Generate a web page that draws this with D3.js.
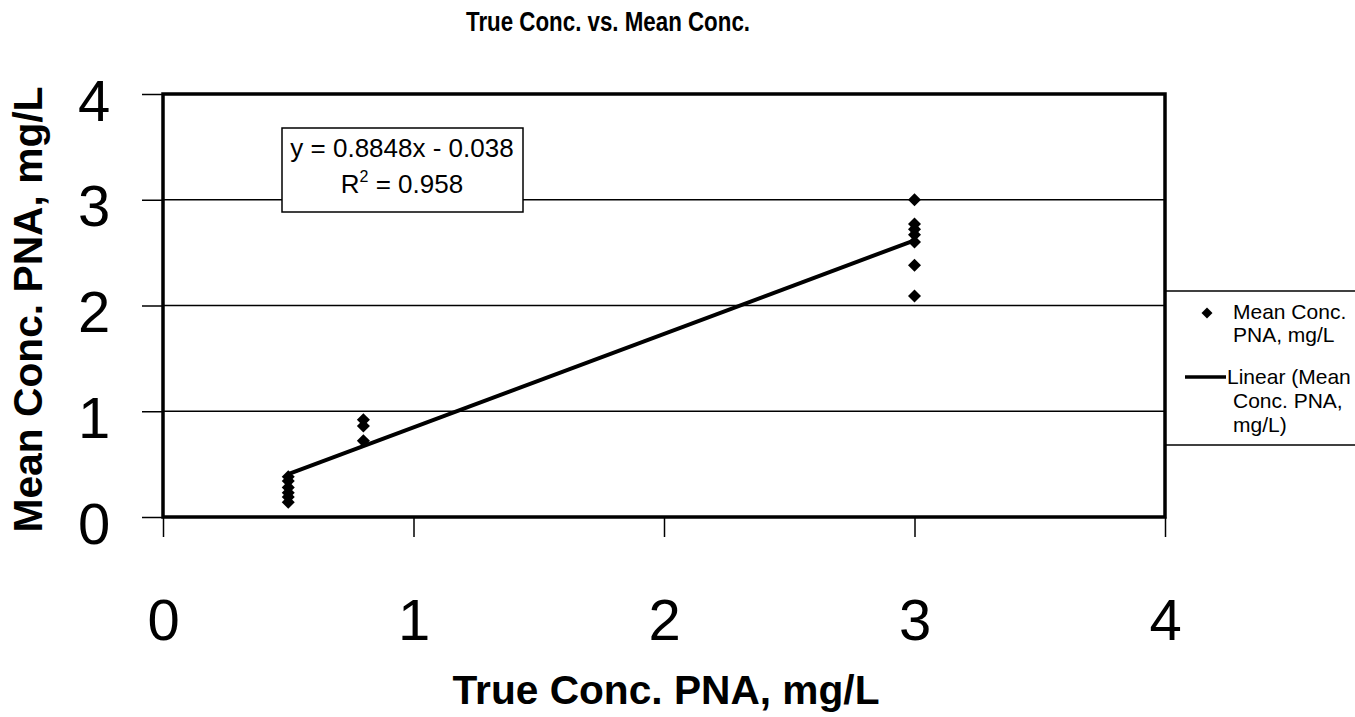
<!DOCTYPE html>
<html lang="en">
<head>
    <meta charset="UTF-8">
    <title>True Conc. vs. Mean Conc.</title>
    <script src="https://d3js.org/d3.v7.min.js"></script>
    <style>
        body {
            margin: 0;
            background: #fff;
            font-family: "Liberation Sans", Arial, sans-serif;
        }
        svg {
            display: block;
        }
    </style>
</head>
<body>
    <svg width="1355" height="717"></svg>

    <script>
        // data
        const trueConc = [0.5, 0.5, 0.5, 0.5, 0.5, 0.5, 0.8, 0.8, 0.8, 3, 3, 3, 3, 3, 3, 3];
        const meanConc = [0.38, 0.34, 0.28, 0.23, 0.19, 0.14, 0.92, 0.86, 0.72, 3.0, 2.77, 2.72, 2.67, 2.60, 2.38, 2.09];
        const xTicks = [0, 1, 2, 3, 4];
        const yTicks = [0, 1, 2, 3, 4];
        const gridValues = [1, 2, 3];
        const slope = 0.8848;
        const intercept = -0.038;
        const equationLines = ["y = 0.8848x - 0.038", "R2 = 0.958"];
        const legendPoint = ["Mean Conc.", "PNA, mg/L"];
        const legendLine = ["Linear (Mean", "Conc. PNA,", "mg/L)"];

        const svg = d3.select("svg");
        const plotLeft = 163, plotRight = 1165, plotTop = 94, plotBottom = 517;

        const x = d3.scaleLinear().domain([0, 4]).range([plotLeft, plotRight]);
        const y = d3.scaleLinear().domain([0, 4]).range([plotBottom, plotTop]);

        // title
        svg.append("text")
            .attr("x", 608).attr("y", 31)
            .attr("text-anchor", "middle")
            .attr("font-size", 27).attr("font-weight", "bold")
            .attr("textLength", 284).attr("lengthAdjust", "spacingAndGlyphs")
            .text("True Conc. vs. Mean Conc.");

        // gridlines
        svg.append("g")
            .selectAll("line")
            .data(gridValues)
            .join("line")
            .attr("x1", plotLeft).attr("x2", plotRight)
            .attr("y1", d => y(d)).attr("y2", d => y(d))
            .attr("stroke", "#000").attr("stroke-width", 1.5);

        // axes
        const yAxis = svg.append("g")
            .attr("transform", `translate(${plotLeft},0)`)
            .call(d3.axisLeft(y).tickValues(yTicks).tickSize(21).tickFormat(d3.format("d")));
        yAxis.select(".domain").remove();
        yAxis.selectAll(".tick line").attr("stroke", "#000").attr("stroke-width", 1.5);
        yAxis.selectAll(".tick text")
            .attr("x", -69).attr("dy", "0.45em")
            .attr("text-anchor", "middle")
            .attr("font-size", 58).attr("font-family", "Liberation Sans, Arial, sans-serif")
            .attr("fill", "#000");

        const xAxis = svg.append("g")
            .attr("transform", `translate(0,${plotBottom})`)
            .call(d3.axisBottom(x).tickValues(xTicks).tickSize(20).tickFormat(d3.format("d")));
        xAxis.select(".domain").remove();
        xAxis.selectAll(".tick line").attr("stroke", "#000").attr("stroke-width", 1.5);
        xAxis.selectAll(".tick text")
            .attr("y", 123).attr("dy", 0)
            .attr("font-size", 58).attr("font-family", "Liberation Sans, Arial, sans-serif")
            .attr("fill", "#000");

        // plot frame
        svg.append("rect")
            .attr("x", plotLeft).attr("y", plotTop)
            .attr("width", plotRight - plotLeft).attr("height", plotBottom - plotTop)
            .attr("fill", "none").attr("stroke", "#000").attr("stroke-width", 3.5);

        // axis titles
        svg.append("text")
            .attr("transform", `translate(42,${(plotTop + plotBottom) / 2 + 4}) rotate(-90)`)
            .attr("text-anchor", "middle")
            .attr("font-size", 40).attr("font-weight", "bold")
            .attr("textLength", 446).attr("lengthAdjust", "spacingAndGlyphs")
            .text("Mean Conc. PNA, mg/L");

        svg.append("text")
            .attr("x", 666).attr("y", 704)
            .attr("text-anchor", "middle")
            .attr("font-size", 40).attr("font-weight", "bold")
            .attr("textLength", 427).attr("lengthAdjust", "spacingAndGlyphs")
            .text("True Conc. PNA, mg/L");

        // trendline
        const lineX = [d3.min(trueConc), d3.max(trueConc)];
        svg.append("path")
            .datum(lineX)
            .attr("d", d3.line().x(d => x(d)).y(d => y(slope * d + intercept)))
            .attr("fill", "none").attr("stroke", "#000").attr("stroke-width", 4);

        // points
        const diamond = d3.symbol(d3.symbolSquare, 85);
        svg.append("g")
            .selectAll("path")
            .data(d3.zip(trueConc, meanConc))
            .join("path")
            .attr("d", diamond)
            .attr("transform", d => `translate(${x(d[0])},${y(d[1])}) rotate(45)`)
            .attr("fill", "#000");

        // equation box
        const eq = svg.append("g");
        eq.append("rect")
            .attr("x", 282).attr("y", 128)
            .attr("width", 241).attr("height", 84)
            .attr("fill", "#fff").attr("stroke", "#000").attr("stroke-width", 1.5);
        eq.append("text")
            .attr("x", 402).attr("y", 157)
            .attr("text-anchor", "middle").attr("font-size", 26)
            .text(equationLines[0]);
        const r2 = eq.append("text")
            .attr("x", 402).attr("y", 193)
            .attr("text-anchor", "middle").attr("font-size", 26);
        r2.append("tspan").text("R");
        r2.append("tspan").attr("dy", -11).attr("font-size", 16).text("2");
        r2.append("tspan").attr("dy", 11).text(equationLines[1].slice(2));

        // legend
        const legend = svg.append("g");
        legend.append("line")
            .attr("x1", plotRight).attr("x2", 1355)
            .attr("y1", 291).attr("y2", 291)
            .attr("stroke", "#000").attr("stroke-width", 1.5);
        legend.append("line")
            .attr("x1", plotRight).attr("x2", 1355)
            .attr("y1", 445).attr("y2", 445)
            .attr("stroke", "#000").attr("stroke-width", 1.5);
        legend.append("path")
            .attr("d", d3.symbol(d3.symbolSquare, 60))
            .attr("transform", "translate(1207,313) rotate(45)")
            .attr("fill", "#000");
        legend.append("line")
            .attr("x1", 1185).attr("x2", 1226)
            .attr("y1", 377).attr("y2", 377)
            .attr("stroke", "#000").attr("stroke-width", 3.5);

        const legendText = (lines, x0, y0, step) => {
            lines.forEach((t, i) => {
                legend.append("text")
                    .attr("x", x0).attr("y", y0 + i * step)
                    .attr("font-size", 21)
                    .text(t);
            });
        };
        legendText(legendPoint, 1233, 319, 23);
        legendText(legendLine.slice(0, 1), 1227, 384, 24);
        legendText(legendLine.slice(1), 1233, 408, 24);
    </script>
</body>
</html>
